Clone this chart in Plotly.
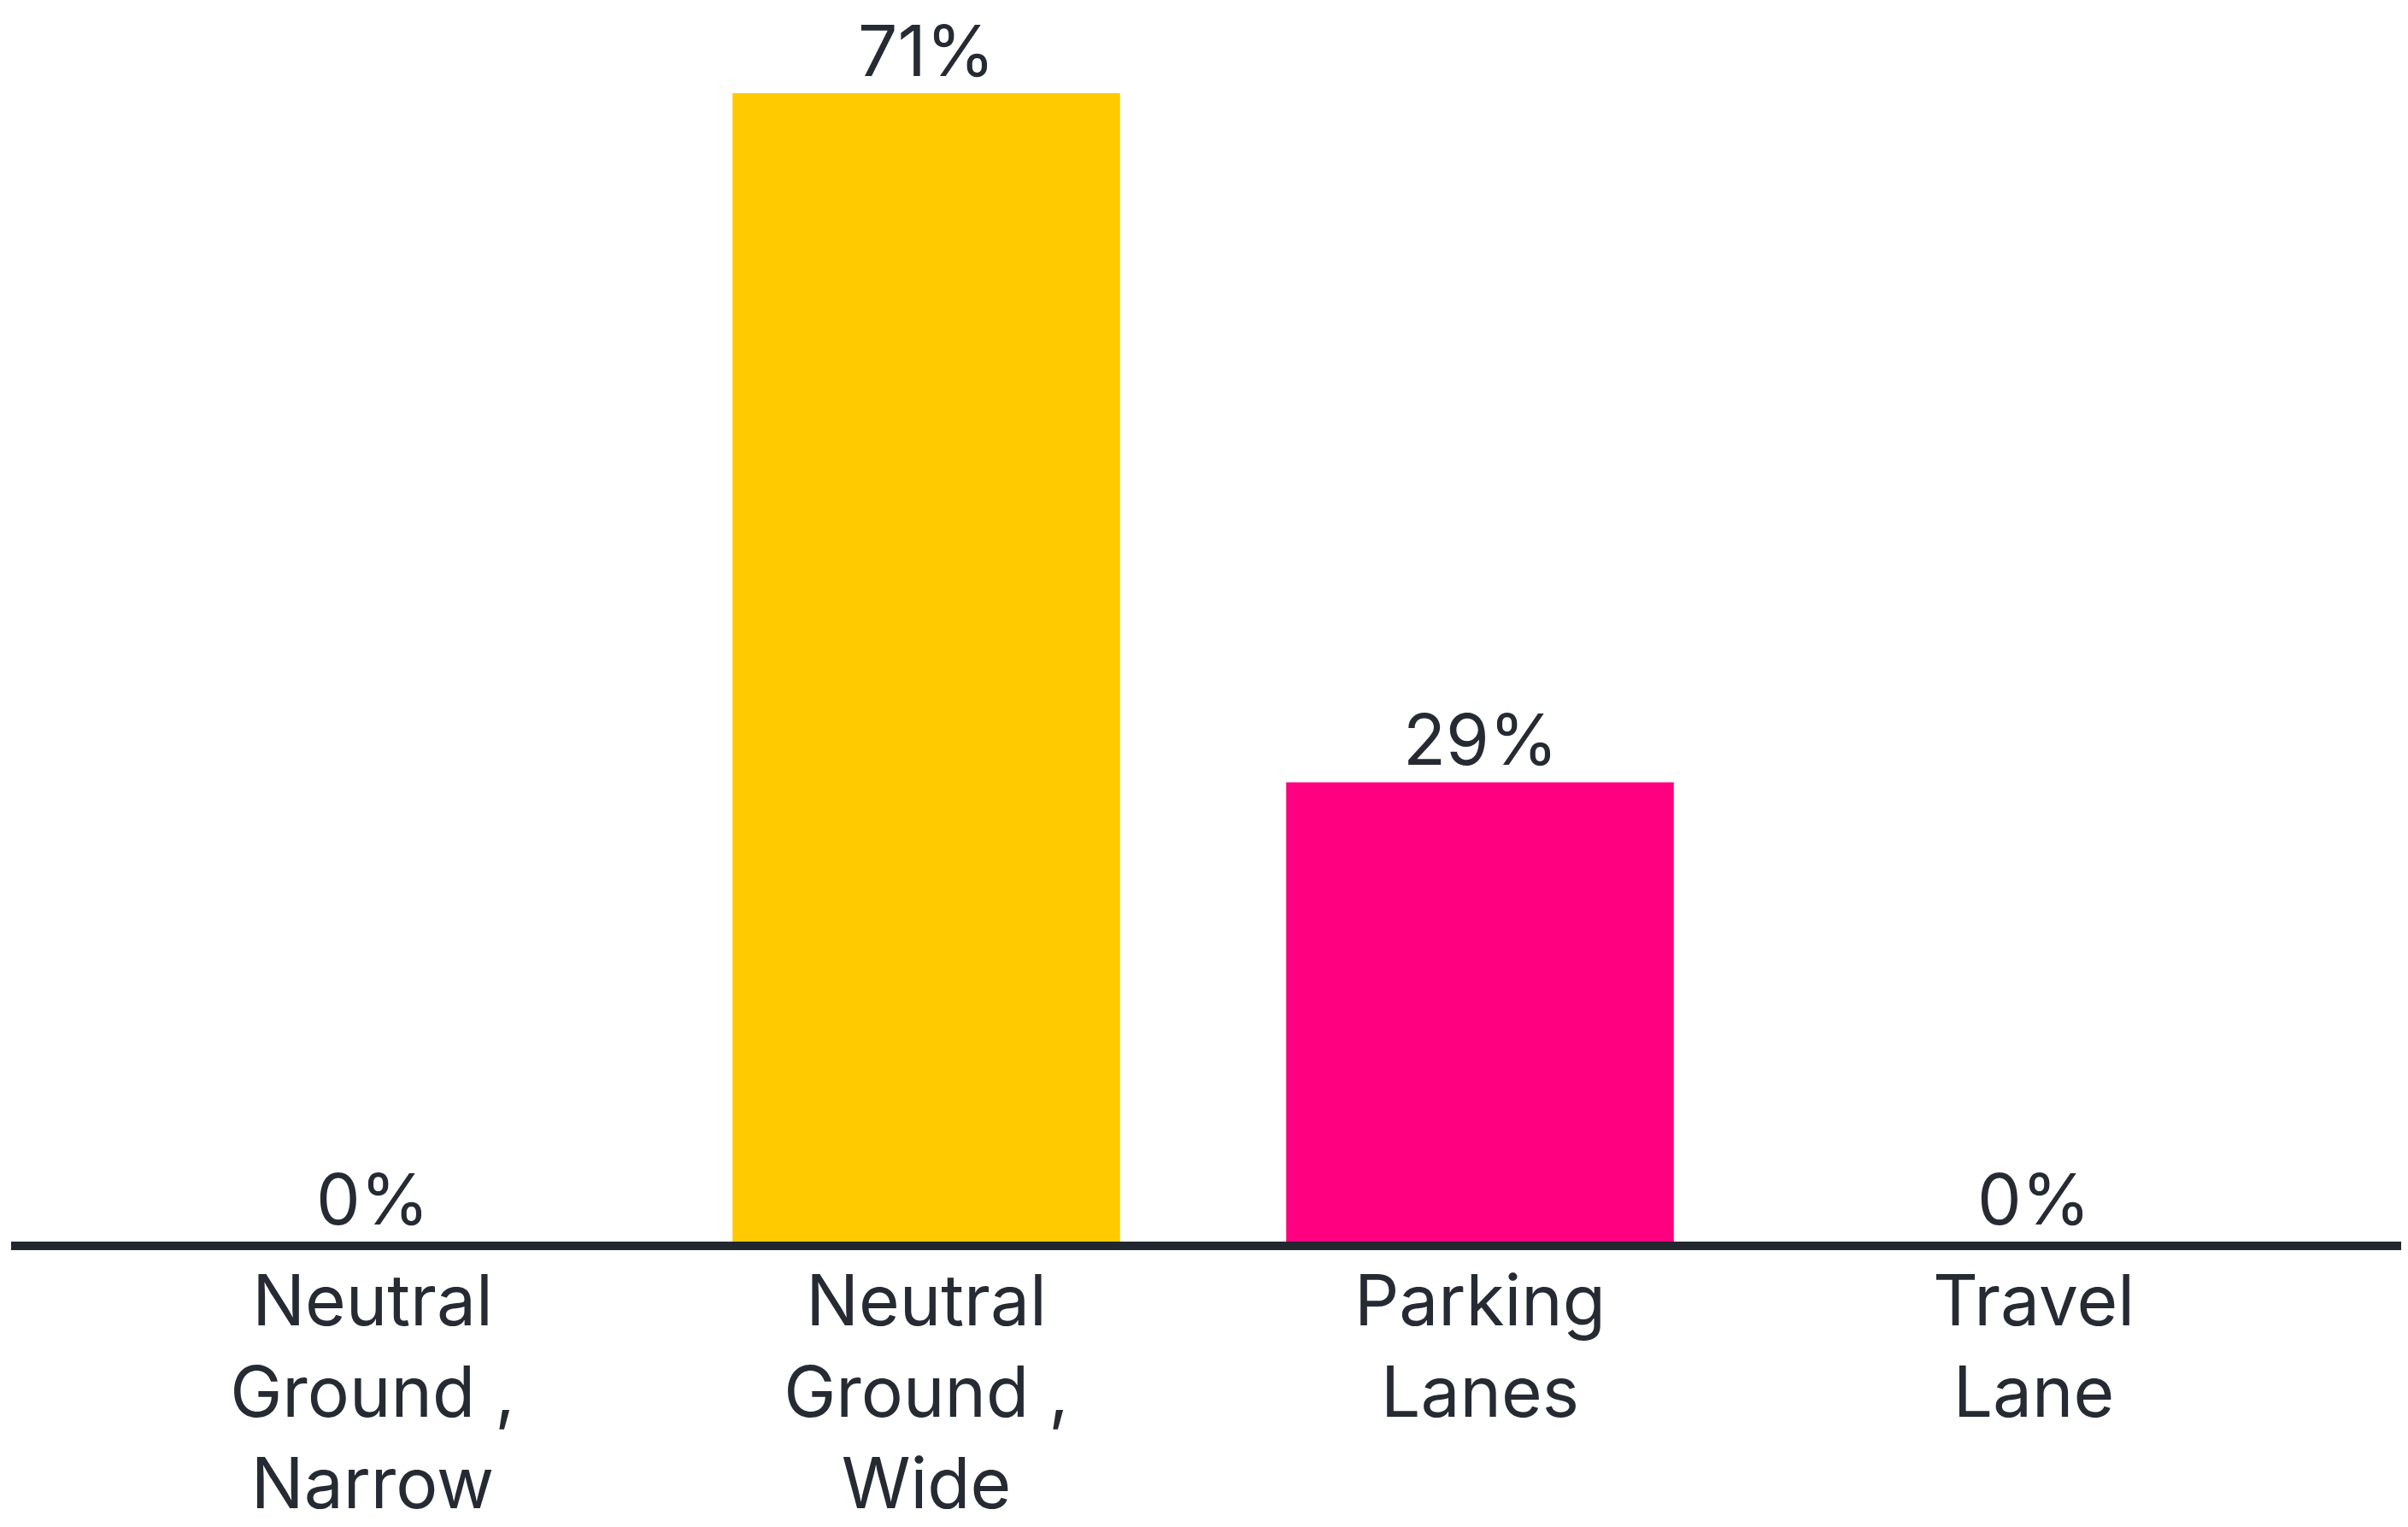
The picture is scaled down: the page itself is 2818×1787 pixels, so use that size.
import plotly.graph_objects as go

categories = ["Neutral<br>Ground ,<br>Narrow", "Neutral<br>Ground ,<br>Wide", "Parking<br>Lanes", "Travel<br>Lane"]
values = [0, 71.43, 28.57, 0]
value_labels = ["0%", "71%", "29%", "0%"]
bar_colors = ["#FFCB00", "#FFCB00", "#FF0080", "#FF0080"]

TEXT = "#262a33"
FONT = "Inter"

# page is rendered with an 8px body margin
OFF = 8
W, H = 2818 - OFF, 1787 - OFF
plot_left, plot_right = 13 - OFF, 2810 - OFF
plot_top, plot_bottom = 0, 1453 - OFF
px_per_unit_y = (1453 - 109) / values[1]
ymax = (plot_bottom - plot_top) / px_per_unit_y
cat_px = 648
x0 = 1 - (1084 - OFF - plot_left) / cat_px
x1 = x0 + (plot_right - plot_left) / cat_px

xs = list(range(len(categories)))

fig = go.Figure(go.Bar(
    x=xs,
    y=values,
    marker=dict(color=bar_colors, line=dict(width=0)),
    cliponaxis=False,
    hoverinfo="skip",
))

for xi, v, lab in zip(xs, values, value_labels):
    fig.add_annotation(
        x=xi, y=v, xref="x", yref="y", text=lab, showarrow=False,
        yanchor="bottom", xanchor="center", yshift=-2,
        font=dict(size=82, color=TEXT, family=FONT),
    )

fig.update_layout(
    width=W, height=H,
    margin=dict(l=plot_left, r=W - plot_right, t=plot_top, b=H - plot_bottom, pad=0),
    paper_bgcolor="white", plot_bgcolor="white",
    bargap=0.3,
    showlegend=False,
    font=dict(family=FONT, color=TEXT, size=82),
    xaxis=dict(
        tickmode="array",
        tickvals=xs,
        ticktext=categories,
        range=[x0, x1],
        showline=True, linewidth=10, linecolor="#22272f",
        showgrid=False, zeroline=False,
        ticks="", ticklabelstandoff=-10,
        tickfont=dict(size=82, color=TEXT, family=FONT),
        automargin=False, fixedrange=True,
    ),
    yaxis=dict(
        range=[0, ymax], visible=False, showgrid=False, zeroline=False,
        automargin=False, fixedrange=True,
    ),
)

fig.write_html("out.html")
